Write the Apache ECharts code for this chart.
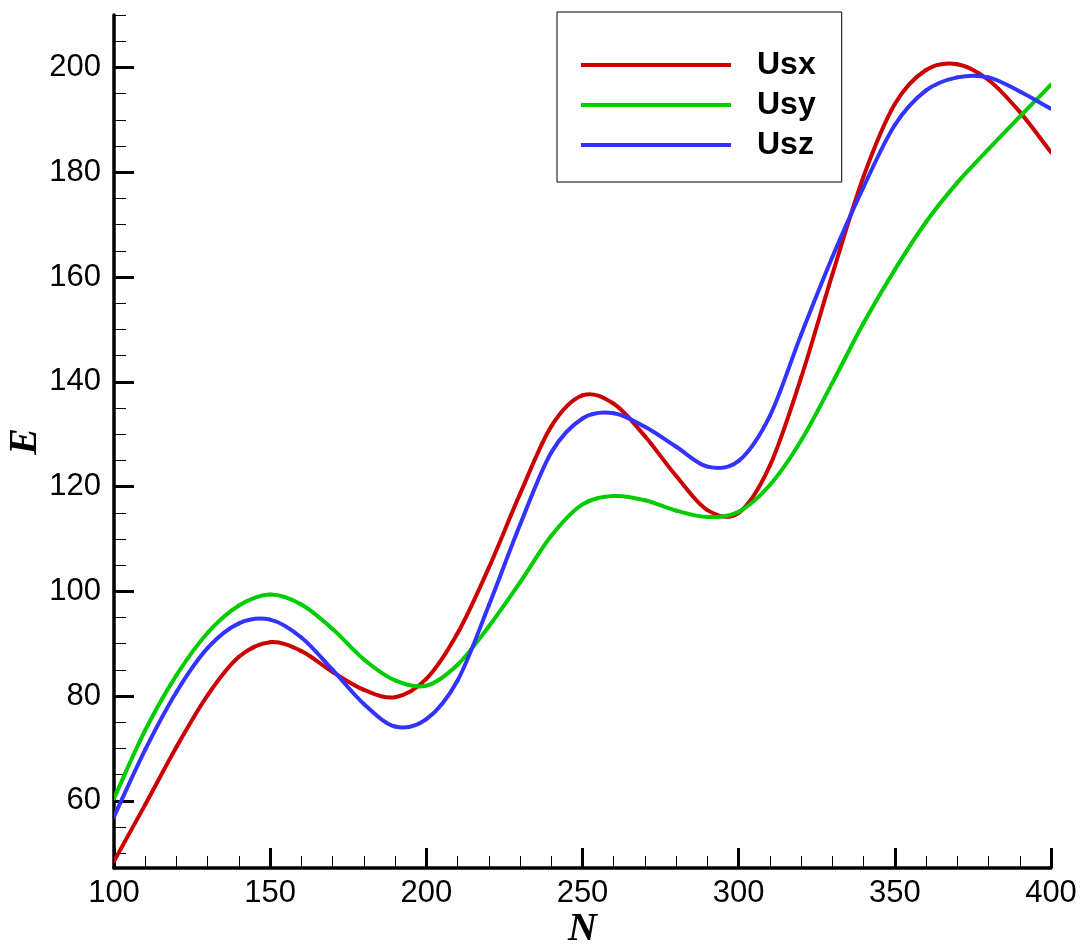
<!DOCTYPE html>
<html>
<head>
<meta charset="utf-8">
<script src="https://cdn.jsdelivr.net/npm/echarts@6/dist/echarts.min.js"></script>
<style>
  html, body { margin: 0; padding: 0; background: #fff; }
  #chart { width: 1083px; height: 948px; }
</style>
</head>
<body>
<div id="chart"></div>
<script>
// Sample sizes N (shared by all three components)
const sampleN = [100, 110, 120, 130, 140, 150, 160, 170, 180, 190, 200, 210, 220, 230, 240, 250, 260, 270, 280, 290, 300, 310, 320, 330, 340, 350, 360, 370, 380, 390, 400];

// Energy E of each component at those sample sizes
const eUsx = [48.5, 59.3, 70.3, 80.2, 87.5, 90.3, 88.6, 84.6, 81.2, 79.8, 83.3, 92.0, 104.5, 118.6, 131.5, 137.4, 135.8, 129.6, 122.0, 115.5, 115.0, 124.0, 140.8, 160.5, 179.2, 193.0, 199.5, 200.6, 197.6, 191.5, 183.8];
const eUsy = [60.5, 73.5, 84.0, 92.1, 97.3, 99.4, 97.5, 92.8, 87.0, 83.0, 82.0, 86.0, 93.3, 101.7, 110.6, 116.6, 118.2, 117.4, 115.4, 114.2, 115.2, 120.3, 128.8, 139.8, 151.2, 161.4, 170.5, 178.0, 184.4, 190.6, 196.7];
const eUsz = [57.0, 69.8, 80.8, 89.2, 93.9, 94.6, 91.2, 85.0, 78.5, 74.2, 75.6, 83.0, 97.3, 112.7, 126.5, 133.0, 134.0, 131.4, 127.6, 123.8, 124.9, 133.5, 149.0, 163.8, 177.2, 189.0, 195.6, 198.1, 198.1, 195.4, 192.1];

const seriesNames = ['Usx', 'Usy', 'Usz'];

// Tick positions on the E axis
const yMajorTicks = [60, 80, 100, 120, 140, 160, 180, 200];
const yMinorTicks = [50, 55, 65, 70, 75, 85, 90, 95, 105, 110, 115, 125, 130, 135, 145, 150, 155, 165, 170, 175, 185, 190, 195, 205, 210];

const pairs = (xs, ys) => xs.map((x, i) => [x, ys[i]]);

const colors = ['#cc0000', '#00cc00', '#3333ff'];
const sans = 'Liberation Sans, Arial, sans-serif';
const serif = 'Liberation Serif, Times New Roman, serif';
const Y_MIN = 47.2, Y_MAX = 210;

const chart = echarts.init(document.getElementById('chart'), null, { renderer: 'canvas' });

const axisNameStyle = {
  fontFamily: serif, fontStyle: 'italic', fontWeight: 'bold', fontSize: 40, color: '#000'
};

// Smooth curve through the samples: each data item draws the cubic segment
// to the next sample, with tangents from neighbouring samples (y as a function of x).
function curveSeries(name, xs, ys, color, z) {
  return {
    name: name,
    type: 'custom',
    coordinateSystem: 'cartesian2d',
    xAxisIndex: 0,
    yAxisIndex: 0,
    data: pairs(xs, ys),
    encode: { x: 0, y: 1 },
    color: color,
    itemStyle: { color: color },
    z: z,
    clip: true,
    renderItem: function (params, api) {
      const i = params.dataIndex;
      const n = xs.length;
      if (i >= n - 1) return null;
      const pt = (k) => api.coord([xs[k], ys[k]]);
      const slope = (k) => {
        const a = pt(Math.max(k - 1, 0));
        const b = pt(Math.min(k + 1, n - 1));
        return (b[1] - a[1]) / (b[0] - a[0]);
      };
      const p0 = pt(i), p1 = pt(i + 1);
      const h = (p1[0] - p0[0]) / 3;
      const m0 = slope(i), m1 = slope(i + 1);
      return {
        type: 'bezierCurve',
        shape: {
          x1: p0[0], y1: p0[1],
          cpx1: p0[0] + h, cpy1: p0[1] + m0 * h,
          cpx2: p1[0] - h, cpy2: p1[1] - m1 * h,
          x2: p1[0], y2: p1[1]
        },
        style: { stroke: color, lineWidth: 4, fill: null, lineCap: 'round' }
      };
    }
  };
}

const option = {
  animation: false,
  backgroundColor: '#fff',
  textStyle: { fontFamily: sans },
  grid: { left: 114, right: 32, top: 15, bottom: 80, containLabel: false, outerBoundsMode: 'none' },
  legend: {
    orient: 'vertical',
    left: 557,
    top: 12,
    padding: [37, 26, 21, 24],
    itemGap: 8,
    itemWidth: 150,
    itemHeight: 4,
    icon: 'rect',
    borderColor: '#000',
    borderWidth: 1,
    backgroundColor: '#fff',
    data: seriesNames,
    textStyle: {
      fontFamily: sans, fontSize: 32, fontWeight: 'bold', color: '#000',
      padding: [0, 0, 0, 21]
    }
  },
  xAxis: {
    type: 'value',
    min: 100,
    max: 400,
    interval: 50,
    name: 'N',
    nameLocation: 'middle',
    nameGap: 42,
    nameMoveOverlap: false,
    nameTextStyle: axisNameStyle,
    axisLine: { show: true, onZero: false, lineStyle: { color: '#000', width: 3.5 } },
    axisTick: { show: true, inside: true, length: 20, lineStyle: { color: '#000', width: 3 } },
    minorTick: { show: true, splitNumber: 5, length: 12, lineStyle: { color: '#000', width: 1 } },
    axisLabel: { fontSize: 31, color: '#000', margin: 10, fontFamily: sans },
    splitLine: { show: false },
    minorSplitLine: { show: false }
  },
  yAxis: [
    {
      type: 'value',
      min: Y_MIN,
      max: Y_MAX,
      name: 'E',
      nameLocation: 'middle',
      nameRotate: 90,
      nameGap: 68,
      nameMoveOverlap: false,
      nameTextStyle: axisNameStyle,
      axisLine: { show: true, onZero: false, lineStyle: { color: '#000', width: 3.5 } },
      axisTick: { show: true, inside: true, length: 20, customValues: yMajorTicks, lineStyle: { color: '#000', width: 3 } },
      axisLabel: { fontSize: 31, color: '#000', margin: 13, fontFamily: sans, customValues: yMajorTicks },
      splitLine: { show: false }
    },
    {
      // minor ticks of the E axis
      type: 'value',
      min: Y_MIN,
      max: Y_MAX,
      position: 'left',
      axisLine: { show: false },
      axisTick: { show: true, inside: true, length: 12, customValues: yMinorTicks, lineStyle: { color: '#000', width: 1 } },
      axisLabel: { show: false },
      splitLine: { show: false }
    }
  ],
  series: [eUsx, eUsy, eUsz].map((ys, i) => curveSeries(seriesNames[i], sampleN, ys, colors[i], 3 + i))
};

chart.setOption(option);
</script>
</body>
</html>
